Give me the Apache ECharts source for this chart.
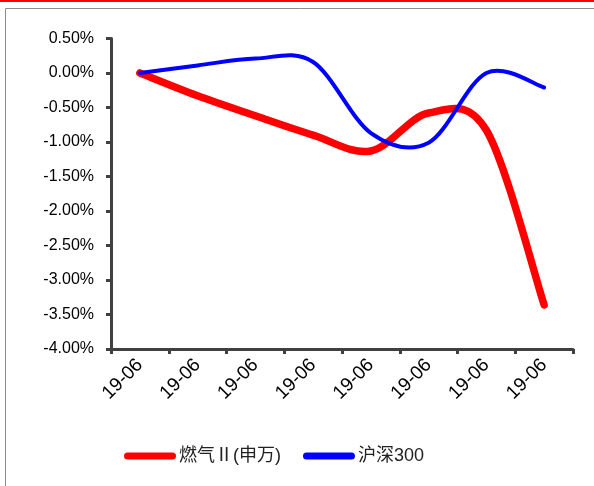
<!DOCTYPE html>
<html>
<head>
<meta charset="utf-8">
<script src="https://cdn.jsdelivr.net/npm/echarts@6/dist/echarts.min.js"></script>
<style>
  html, body { margin: 0; padding: 0; background: #fff; }
  #chart { width: 594px; height: 486px; }
</style>
</head>
<body>
<div id="chart"></div>
<script>
// 日期（均为 19-06）
const categories = ['19-06', '19-06', '19-06', '19-06', '19-06', '19-06', '19-06', '19-06']
// 燃气Ⅱ(申万) 累计涨跌幅 %
const gasValues = [0, -0.33, -0.62, -0.90, -1.13, -0.58, -0.83, -3.36]
// 沪深300 累计涨跌幅 %
const hs300Values = [0, 0.11, 0.21, 0.16, -0.87, -1.01, 0.0, -0.21]

const chart = echarts.init(document.getElementById('chart'))

const axisColor = '#404040'
const font = 'Arial, "Liberation Sans", "Noto Sans CJK SC", sans-serif'

// Excel 风格平滑曲线（Catmull-Rom -> Bezier），坐标由 api.coord 给出
function smoothPath(pts) {
  let d = 'M' + pts[0][0] + ',' + pts[0][1]
  for (let i = 0; i < pts.length - 1; i++) {
    const p0 = pts[Math.max(i - 1, 0)]
    const p1 = pts[i]
    const p2 = pts[i + 1]
    const p3 = pts[Math.min(i + 2, pts.length - 1)]
    const c1x = p1[0] + (p2[0] - p0[0]) / 6
    const c1y = p1[1] + (p2[1] - p0[1]) / 6
    const c2x = p2[0] - (p3[0] - p1[0]) / 6
    const c2y = p2[1] - (p3[1] - p1[1]) / 6
    d += ' C' + c1x + ',' + c1y + ' ' + c2x + ',' + c2y + ' ' + p2[0] + ',' + p2[1]
  }
  return d
}

function curveSeries(name, values, color, width) {
  return {
    name: name,
    type: 'custom',
    data: values.map((v, i) => [i, v]),
    encode: { x: 0, y: 1 },
    itemStyle: { color: color },
    renderItem: function (params, api) {
      if (params.dataIndex !== 0) return null
      const pts = values.map((v, i) => api.coord([i, v]))
      return {
        type: 'path',
        shape: { pathData: smoothPath(pts) },
        style: {
          fill: 'none',
          stroke: color,
          lineWidth: width,
          lineCap: 'round',
          lineJoin: 'round',
        },
      }
    },
  }
}

const capsule = 'path://M3.5,0 H48.5 A3.5,3.5 0 0 1 48.5,7 H3.5 A3.5,3.5 0 0 1 3.5,0 Z'

chart.setOption({
  animation: false,
  graphic: [
    // 外框
    {
      type: 'rect',
      shape: { x: 5.5, y: 8.5, width: 600, height: 600 },
      style: { fill: 'none', stroke: '#8c8c8c', lineWidth: 1 },
    },
    // 顶部红线
    {
      type: 'rect',
      shape: { x: 0, y: 0, width: 594, height: 2 },
      style: { fill: '#ff0000' },
    },
  ],
  grid: {
    left: 111,
    right: 21,
    top: 38.5,
    bottom: 137,
  },
  legend: {
    top: 442,
    left: 119,
    itemWidth: 52,
    itemHeight: 7,
    itemGap: 22,
    textStyle: { fontSize: 18, color: '#222', fontFamily: font, padding: [0, 0, 0, -2] },
    data: [
      { name: '燃气Ⅱ(申万)', icon: capsule, itemStyle: { color: '#ff0000' } },
      { name: '沪深300', icon: capsule, itemStyle: { color: '#0000ff' } },
    ],
  },
  xAxis: {
    type: 'category',
    data: categories,
    boundaryGap: true,
    axisLine: { onZero: false, lineStyle: { color: axisColor, width: 3 } },
    axisTick: { show: true, length: 5, lineStyle: { color: axisColor, width: 3 } },
    axisLabel: {
      rotate: 45,
      fontSize: 19,
      color: '#000',
      fontFamily: font,
      margin: 13,
      interval: 0,
    },
    splitLine: { show: false },
  },
  yAxis: {
    type: 'value',
    min: -4,
    max: 0.5,
    interval: 0.5,
    axisLine: { show: true, lineStyle: { color: axisColor, width: 3 } },
    axisTick: { show: true, length: 5, lineStyle: { color: axisColor, width: 3 } },
    axisLabel: {
      fontSize: 16,
      color: '#000',
      fontFamily: font,
      margin: 17,
      formatter: (v) => v.toFixed(2) + '%',
    },
    splitLine: { show: false },
  },
  series: [
    curveSeries('燃气Ⅱ(申万)', gasValues, '#ff0000', 7.5),
    curveSeries('沪深300', hs300Values, '#0000ff', 4),
  ],
})
</script>
</body>
</html>
